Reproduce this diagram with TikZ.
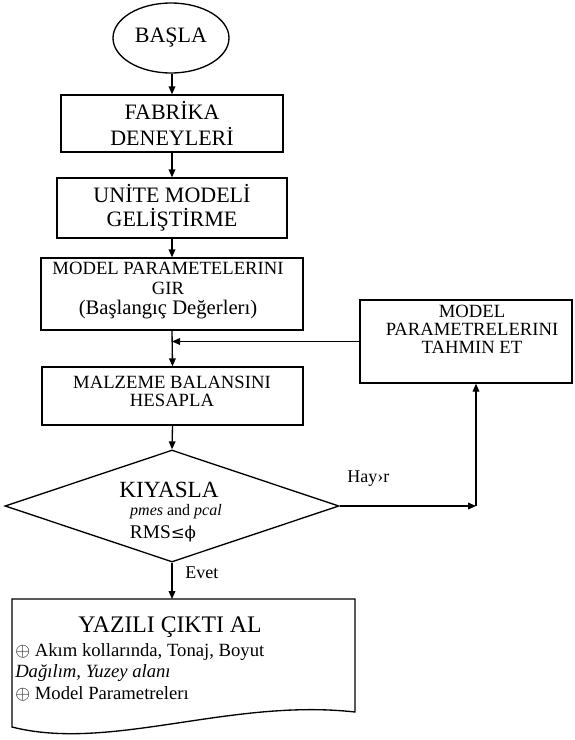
\documentclass[tikz,border=0pt]{standalone}
\usepackage{fontspec}
\setmainfont{Liberation Serif}
\newfontfamily\dvsymb{DejaVu Serif}
\usetikzlibrary{shapes.geometric,arrows.meta}
\begin{document}
\begin{tikzpicture}[x=0.75pt,y=-0.75pt,
  box/.style={draw,line width=1pt,rectangle,align=center,inner sep=0pt},
  arr/.style={line width=1pt,-{Triangle[length=6pt,width=5pt]}},
  ln/.style={line width=1pt},
  big/.style={font=\fontsize{16.5}{20}\selectfont},
  mid/.style={font=\fontsize{14}{13.5}\selectfont},
  lbl/.style={font=\fontsize{13.5}{16}\selectfont,inner sep=0pt},
  doct/.style={inner sep=0pt,anchor=base west,font=\fontsize{14}{16}\selectfont}]
\useasboundingbox (0,0) rectangle (575,740);

% start
\node[draw,ellipse,line width=1pt,minimum width=87pt,minimum height=52.5pt,inner sep=0pt,big] (start) at (171,38) {BAŞLA};

% boxes
\node[box,minimum width=166.5pt,minimum height=42.75pt,big] (fab) at (172,123.5) {FABRİKA\\[-1pt]DENEYLERİ};
\node[box,minimum width=172.5pt,minimum height=45pt,big] (unite) at (172,208) {UNİTE MODELİ\\[-2pt]GELİŞTİRME};
\node[box,minimum width=196.5pt,minimum height=54pt] (mp) at (172,294) {};
\node[align=center,inner sep=0pt,font=\fontsize{14}{15}\selectfont] (mptext) at (168,291)
  {MODEL PARAMETELERINI\\GIR\\{\fontsize{15.5}{16}\selectfont (Başlangıç Değerlerı)}};
\node[box,minimum width=195.75pt,minimum height=43.5pt] (malz) at (172.5,396) {};
\node[align=center,inner sep=0pt,mid] (malztext) at (172,391) {MALZEME BALANSINI\\HESAPLA};
\node[box,minimum width=159pt,minimum height=62.25pt] (tahmin) at (466,341.5) {};
\node[align=center,inner sep=0pt,mid] (tahmintext) at (472,329) {MODEL\\PARAMETRELERINI\\TAHMIN ET};

% decision
\node[draw,diamond,line width=1pt,minimum width=250.5pt,minimum height=84pt,inner sep=0pt] (d) at (172,506) {};
\node[inner sep=0pt,font=\fontsize{17.4}{20}\selectfont] (k1) at (169,490) {KIYASLA};
\node[inner sep=0pt,font=\fontsize{12}{14}\selectfont] (k2) at (176,512) {\textit{pmes} and \textit{pcal}};
\node[inner sep=0pt,font=\fontsize{14.5}{16}\selectfont] (k3) at (163,534) {RMS{\dvsymb\fontsize{12.5}{16}\selectfont ≤ϕ}};

% document
\draw[ln] (12,599) -- (355,599) -- (355,712) .. controls (230,698) and (110,752) .. (12,727) -- cycle;
\coordinate (doctop) at (172,599);
\node[inner sep=0pt,font=\fontsize{17.8}{20}\selectfont] (y1) at (170,627) {YAZILI ÇIKTI AL};
\node[doct] (y2) at (15,656) {$\oplus$ Akım kollarında, Tonaj, Boyut};
\node[doct] (y3) at (15,677) {\textit{Dağılım, Yuzey alanı}};
\node[doct] (y4) at (15,699) {$\oplus$ Model Parametrelerı};

% connectors
\coordinate (j1) at (mp.south |- tahmin.west);
\coordinate (j2) at (476,506);
\draw[arr] (start.south -| fab.north) -- (fab.north);
\draw[arr] (fab.south) -- (unite.north);
\draw[arr] (unite.south) -- (mp.north);
\draw[arr] (mp.south) -- (malz.north);
\draw[arr] (tahmin.west) -- (j1);
\draw[arr] (malz.south) -- (d.north);
\draw[arr] (d.east) -- (j2) node[pos=0.21,anchor=south,yshift=14pt,lbl] {Hay›r};
\draw[arr] (j2) -- (j2 |- tahmin.south);
\draw[arr] (d.south) -- (doctop) node[pos=0.28,anchor=west,xshift=9.5pt,lbl] {Evet};
\end{tikzpicture}
\end{document}
